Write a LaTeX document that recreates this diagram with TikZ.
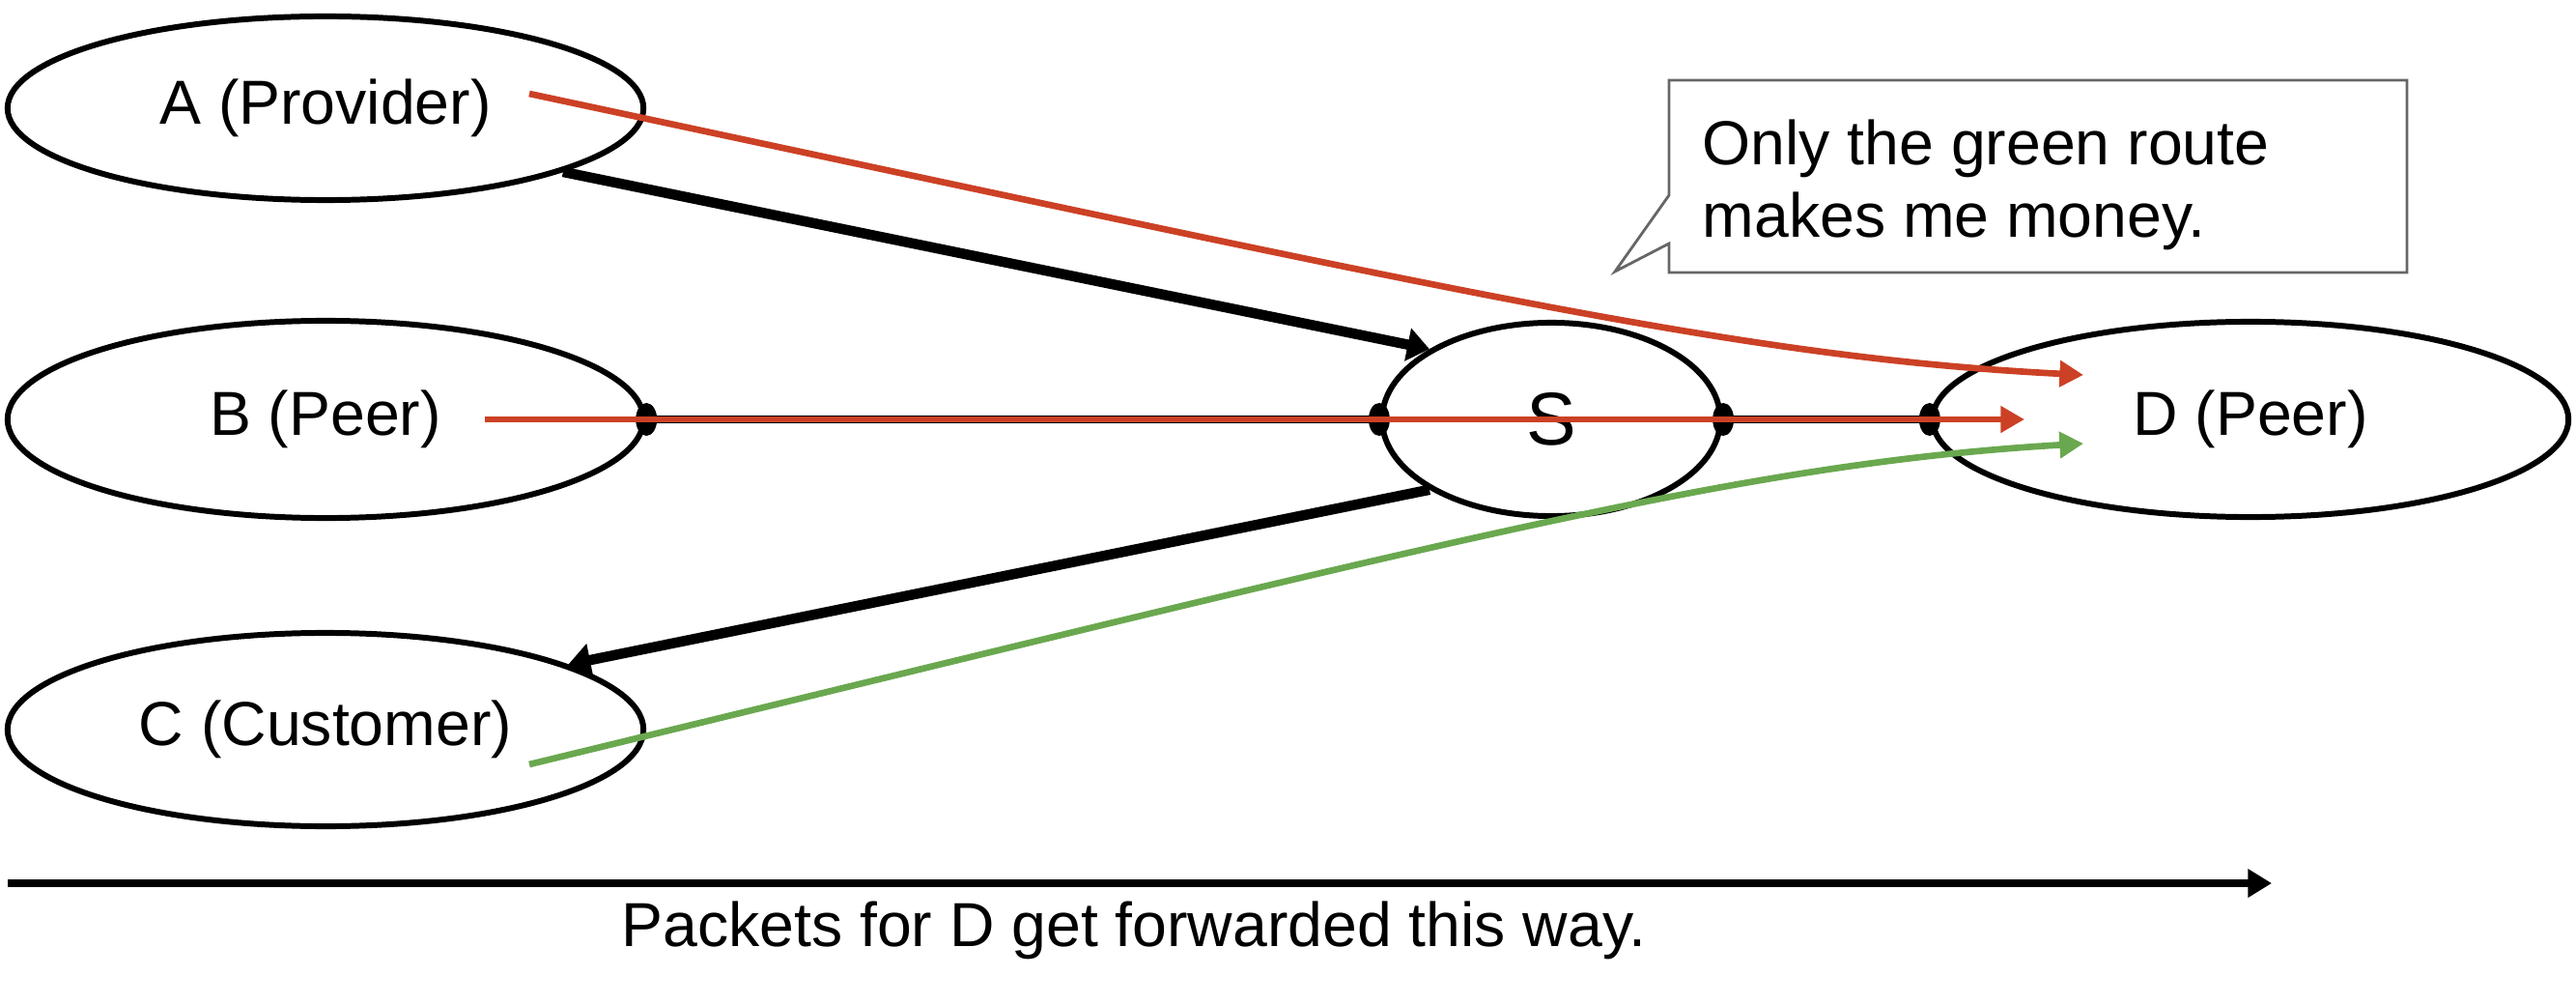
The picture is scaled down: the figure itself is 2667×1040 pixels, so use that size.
\documentclass[tikz,border=0pt]{standalone}
\usepackage{fontspec}
\setmainfont{Liberation Sans}
\usetikzlibrary{shapes.geometric,arrows.meta}
\definecolor{rroute}{RGB}{204,65,37}
\definecolor{groute}{RGB}{106,168,79}
\definecolor{calloutgray}{RGB}{102,102,102}
\tikzset{
  asnode/.style={ellipse, draw=black, line width=1.7pt, inner sep=0pt, font=\fontsize{18.3}{22}\selectfont},
  thickarrow/.style={line width=3pt, -{Triangle[length=6.5pt,width=9.5pt]}},
  redroute/.style={draw=rroute, line width=1.9pt, -{Triangle[length=7pt,width=7.5pt]}},
  greenroute/.style={draw=groute, line width=1.9pt, -{Triangle[length=7pt,width=7.5pt]}},
  peerlink/.style={line width=2.4pt},
  lbl/.style={font=\fontsize{18.3}{21.3}\selectfont, inner sep=0pt}
}
\begin{document}
\begin{tikzpicture}[x=0.01cm,y=-0.01cm]
\useasboundingbox (0,0) rectangle (2667,1040);
% nodes
\node[asnode, minimum width=6.58cm, minimum height=1.9cm] (A) at (337,112) {A (Provider)};
\node[asnode, minimum width=6.58cm, minimum height=2.04cm] (B) at (337,434) {B (Peer)};
\node[asnode, minimum width=6.58cm, minimum height=2.0cm] (C) at (337,755) {C (Customer)};
\node[asnode, minimum width=3.5cm, minimum height=2.0cm, font=\fontsize{22}{25}\selectfont] (S) at (1606,434) {S};
\node[asnode, minimum width=6.58cm, minimum height=2.02cm] (D) at (2330,434) {D (Peer)};
% peer links with oval ends
\draw[peerlink] (B.east) -- (S.west);
\draw[peerlink] (S.east) -- (D.west);
\foreach \p in {B.east,S.west,S.east,D.west}
  \fill (\p) ellipse [x radius=0.11cm, y radius=0.17cm];
% provider / customer links
\draw[thickarrow] (A.-15) -- (S.150.6);
\draw[thickarrow] (S.-150.2) -- (C.15.6);
% routes
\coordinate (rAs) at (548,97);
\coordinate (rAe) at (2157,388);
\coordinate (rBs) at (502,434);
\coordinate (rBe) at (2096,434);
\coordinate (gCs) at (548,791);
\coordinate (gCe) at (2157,459);
\draw[redroute] (rAs) .. controls (1500,300) and (1800,370) .. (rAe);
\draw[redroute] (rBs) -- (rBe);
\draw[greenroute] (gCs) .. controls (1500,560) and (1800,480) .. (gCe);
% callout
\draw[calloutgray, line width=0.8pt, fill=white] (1728,83) -- (2492,83) -- (2492,282) -- (1728,282) -- (1728,252) -- (1672,281) -- (1728,202) -- cycle;
\node[lbl, anchor=west, align=left] (note) at (1762,191) {Only the green route\\makes me money.};
% forwarding direction
\coordinate (fwdS) at (8,914);
\coordinate (fwdE) at (2352,914);
\draw[line width=2pt, -{Triangle[length=7pt,width=8pt]}] (fwdS) -- (fwdE);
\node[lbl] (fwd) at (1174,963) {Packets for D get forwarded this way.};
\end{tikzpicture}
\end{document}
